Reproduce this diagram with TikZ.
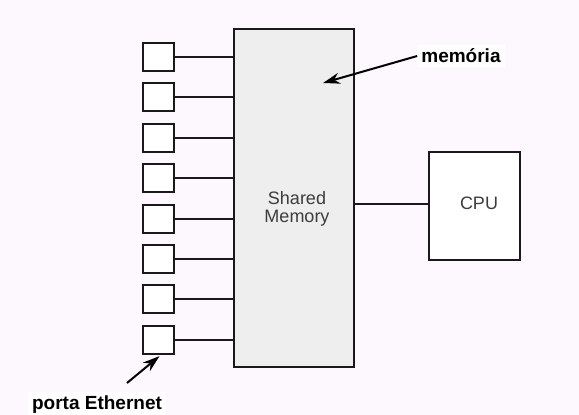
\documentclass[tikz,border=0pt]{standalone}
\usepackage{fontspec}
\setmainfont{Liberation Sans}
\usepackage{xcolor}
\usepackage{tikz}
\usetikzlibrary{arrows.meta,positioning,calc}
\definecolor{bgpink}{RGB}{253,248,253}
\definecolor{memgray}{RGB}{238,238,238}
\definecolor{txtgray}{RGB}{60,60,60}
\tikzset{
  membox/.style   = {rectangle, draw=black!90, fill=memgray, line width=2.2pt,
                     minimum width=120pt, minimum height=338pt, inner sep=0pt},
  portbox/.style  = {rectangle, draw=black!90, fill=white, line width=2.2pt,
                     minimum width=31pt, minimum height=28pt, inner sep=0pt},
  cpubox/.style   = {rectangle, draw=black!90, fill=white, line width=2.2pt,
                     minimum width=91pt, minimum height=108pt, inner sep=0pt,
                     font=\fontsize{18}{19}\selectfont, text=txtgray},
  boxtxt/.style   = {align=center, font=\fontsize{18}{18}\selectfont, text=txtgray},
  tagtxt/.style   = {font=\fontsize{19}{20}\selectfont\bfseries, fill=white, inner sep=4pt},
  portlink/.style = {draw=black!90, line width=2.2pt},
  tagflow/.style  = {-{Stealth[length=17pt,width=11pt]}, draw=black, line width=2pt},
}

\begin{document}
\begin{tikzpicture}[x=1pt,y=-1pt]
  \fill[bgpink] (0,0) rectangle (579,415);
  \useasboundingbox (0,0) rectangle (579,415);

  \node[membox] (mem) at (294,198) {};
  \node[boxtxt] (memtxt) at (297,209) {Shared\\Memory};

  \node[portbox] (p1) at (158.5,57)  {};
  \node[portbox] (p2) at (158.5,97)  {};
  \node[portbox] (p3) at (158.5,138) {};
  \node[portbox] (p4) at (158.5,178) {};
  \node[portbox] (p5) at (158.5,219) {};
  \node[portbox] (p6) at (158.5,259) {};
  \node[portbox] (p7) at (158.5,299) {};
  \node[portbox] (p8) at (158.5,340) {};

  \node[cpubox] (cpu) at (474.5,206) {\raisebox{5pt}{\hspace{9pt}CPU}};

  \draw[portlink] (p1.east) -- (p1.east -| mem.west);
  \draw[portlink] (p2.east) -- (p2.east -| mem.west);
  \draw[portlink] (p3.east) -- (p3.east -| mem.west);
  \draw[portlink] (p4.east) -- (p4.east -| mem.west);
  \draw[portlink] (p5.east) -- (p5.east -| mem.west);
  \draw[portlink] (p6.east) -- (p6.east -| mem.west);
  \draw[portlink] (p7.east) -- (p7.east -| mem.west);
  \draw[portlink] (p8.east) -- (p8.east -| mem.west);
  \draw[portlink] ($(mem.east)+(0,6)$) -- ($(cpu.west)+(0,-2)$);

  % labels pasted on top of the figure
  \node[tagtxt] (memlbl) at (461,56) {memória};
  \coordinate (memtip) at (323,83);
  \draw[tagflow] (memlbl.west) -- (memtip);

  \node[tagtxt] (portlbl) at (97,405) {porta Ethernet};
  \coordinate (portfoot) at (127,383);
  \draw[tagflow] (portfoot) -- ($(p8.south)+(1,1)$);
\end{tikzpicture}
\end{document}
